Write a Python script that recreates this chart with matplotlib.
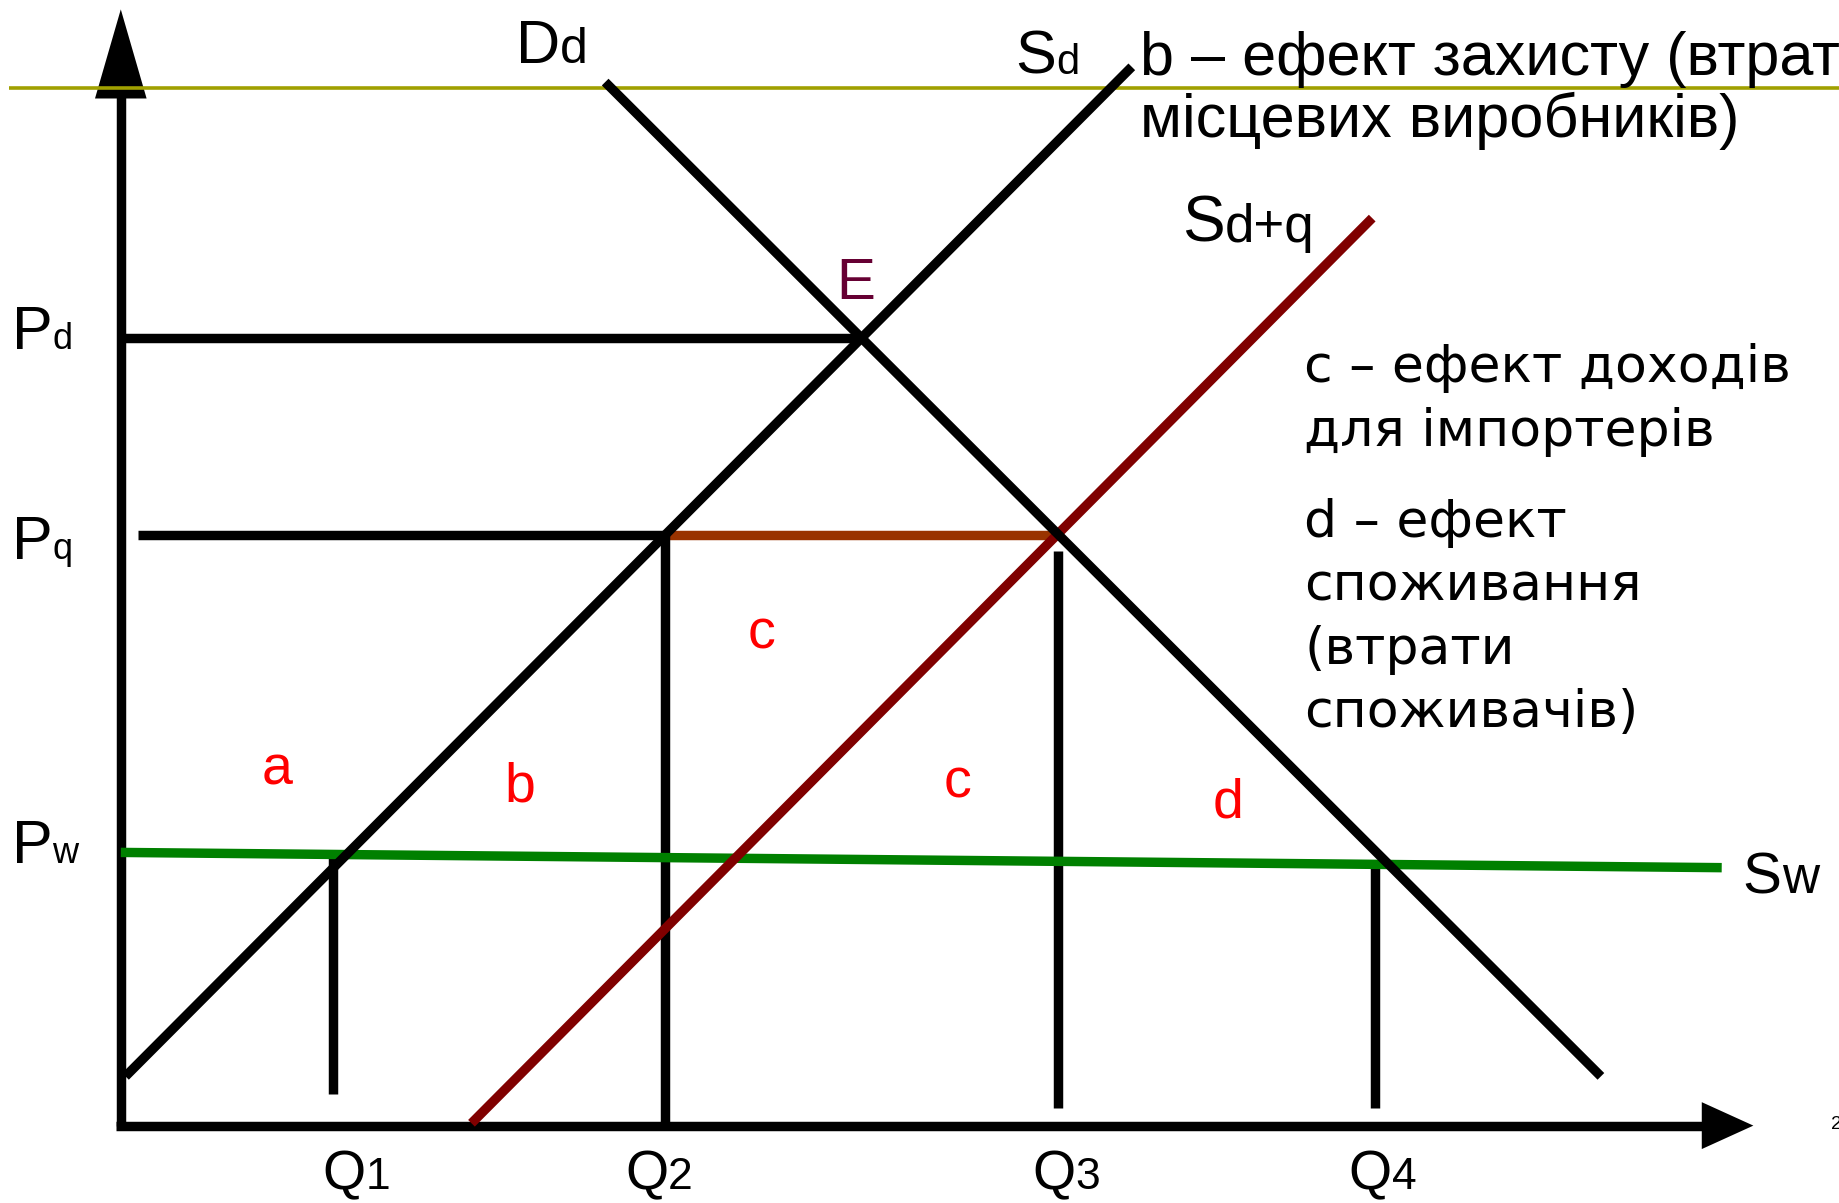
import matplotlib
matplotlib.use("Agg")
import matplotlib.pyplot as plt

# Diagram coordinates: x to the right, y downward (0..1568 x 0..1026)
W, H = 1568, 1026

# axes
axis_x0, axis_y0 = 103, 960
y_axis_top, x_axis_right = 8, 1495

# price levels and labels
price_subs = ["d", "q", "w"]
price_levels = [288, 456, 728]
price_label_y = [298, 477, 736]

# quantities on the horizontal axis
qty_subs = ["1", "2", "3", "4"]
qty_levels = [284, 567, 902, 1172]
qty_top = [731, 456, 470, 737]
qty_bottom = [933, 960, 945, 945]
qty_label_x = [275, 533, 880, 1150]

# curves (end points)
demand_x, demand_y = [516, 1365], [70, 918]
supply_x, supply_y = [107, 965], [918, 57]
supply_q_x, supply_q_y = [402, 1170], [958, 186]
world_x, world_y = [103, 1468], [727, 740]

# area letters
area_labels = ["c", "a", "b", "c", "d"]
area_x = [649, 236, 443, 816, 1047]
area_y = [553, 669, 684, 680, 697]

legend_top = ["b – ефект захисту (втрати", "місцевих виробників)"]
legend_top_y = [64, 117]
legend_right = ["c – ефект доходів", "для імпортерів", "d – ефект",
                "споживання", "(втрати", "споживачів)"]
legend_right_y = [326, 380, 458, 512, 566, 620]

fig = plt.figure(figsize=(18.39, 12.03), dpi=100)
ax = fig.add_axes([0, 0, 1, 1])
ax.set_xlim(0, W)
ax.set_ylim(H, 0)
ax.axis("off")

LW = 6.8
narrow = ["Liberation Sans Narrow", "Liberation Sans", "DejaVu Sans"]
arial = ["Liberation Sans", "DejaVu Sans"]

# olive rule at the top
ax.plot([8, W], [75, 75], color="#a0a000", lw=2.6, solid_capstyle="butt")

# axes with arrow heads
ax.plot([axis_x0, axis_x0], [axis_y0, 80], color="black", lw=LW, solid_capstyle="butt")
ax.plot([axis_x0 - 4, 1455], [axis_y0, axis_y0], color="black", lw=LW, solid_capstyle="butt")
ax.fill([axis_x0 - 22, axis_x0 + 22, axis_x0], [84, 84, y_axis_top], color="black", lw=0)
ax.fill([1451, 1451, x_axis_right], [axis_y0 - 20, axis_y0 + 20, axis_y0], color="black", lw=0)

# guide lines
ax.plot([103, 735], [price_levels[0]] * 2, color="black", lw=LW, solid_capstyle="butt")
ax.plot([118, qty_levels[1]], [price_levels[1]] * 2, color="black", lw=LW, solid_capstyle="butt")
ax.plot([qty_levels[1], qty_levels[2]], [price_levels[1]] * 2, color="#993300", lw=LW,
        solid_capstyle="butt")
for q, t, b in zip(qty_levels, qty_top, qty_bottom):
    ax.plot([q, q], [t, b], color="black", lw=LW, solid_capstyle="butt")

# curves
ax.plot(world_x, world_y, color="#008000", lw=LW, solid_capstyle="butt")
ax.plot(supply_q_x, supply_q_y, color="#800000", lw=LW, solid_capstyle="butt")
ax.plot(demand_x, demand_y, color="black", lw=LW, solid_capstyle="butt")
ax.plot(supply_x, supply_y, color="black", lw=LW, solid_capstyle="butt")

renderer = fig.canvas.get_renderer()


def label(x, y, main, sub, size, sub_size, family=arial, sub_family=arial, color="black"):
    t = ax.text(x, y, main, fontsize=size, family=family, va="baseline", ha="left", color=color)
    bb = t.get_window_extent(renderer)
    x1 = ax.transData.inverted().transform((bb.x1, bb.y0))[0]
    ax.text(x1, y, sub, fontsize=sub_size, family=sub_family, va="baseline", ha="left",
            color=color)


# curve labels
label(440, 54, "D", "d", 44, 36)
label(866, 63, "S", "d", 44, 30, family=narrow, sub_family=narrow)
label(1008, 206, "S", "d+q", 46, 38, family=narrow, sub_family=narrow)
label(1486, 762, "S", "w", 42, 37, family=narrow, sub_family=narrow)
ax.text(713, 255, "E", fontsize=42, family=arial, color="#660033", va="baseline")

# price labels
for s, b in zip(price_subs, price_label_y):
    label(10, b, "P", s, 44, 26)

# quantity labels
for s, x in zip(qty_subs, qty_label_x):
    label(x, 1014, "Q", s, 40, 32, sub_family=narrow)

# area letters
for a, x, y in zip(area_labels, area_x, area_y):
    ax.text(x, y, a, fontsize=40, family=arial, color="red", ha="center", va="baseline")

# legends
for s, y in zip(legend_top, legend_top_y):
    ax.text(972, y, s, fontsize=44, family=["DejaVu Sans Condensed"] + arial, va="baseline")
for s, y in zip(legend_right, legend_right_y):
    ax.text(1112, y, s, fontsize=37.5, family=["DejaVu Sans"], va="baseline")

ax.text(1561, 963, "2", fontsize=14, family=arial, va="baseline")

fig.savefig("out.png", dpi=100)
